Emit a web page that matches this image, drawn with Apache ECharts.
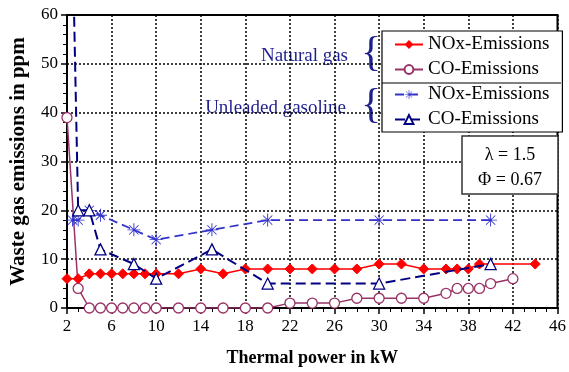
<!DOCTYPE html>
<html>
<head>
<meta charset="utf-8">
<script src="https://cdn.jsdelivr.net/npm/echarts@6/dist/echarts.min.js"></script>
<style>
html,body{margin:0;padding:0;background:#fff;}
#c{width:569px;height:372px;}
</style>
</head>
<body>
<div id="c"></div>
<script>
// ---- data ----
var xTickLabels = [2,6,10,14,18,22,26,30,34,38,42,46];
var yTickLabels = [0,10,20,30,40,50,60];

var seriesNames = ['ngNOx','ngCO','gasNOx','gasCO'];
var legendLabels = ['NOx-Emissions','CO-Emissions','NOx-Emissions','CO-Emissions'];
var groupLabels = ['Natural gas','Unleaded gasoline'];

var ngNoxX = [2,3,4,5,6,7,8,9,10,12,14,16,18,20,22,24,26,28,30,32,34,36,37,38,39,44];
var ngNoxY = [6,6,7,7,7,7,7,7,7,7,8,7,8,8,8,8,8,8,9,9,8,8,8,8,9,9];

var ngCoX = [2,3,4,5,6,7,8,9,10,12,14,16,18,20,22,24,26,28,30,32,34,36,37,38,39,40,42];
var ngCoY = [39,4,0,0,0,0,0,0,0,0,0,0,0,0,1,1,1,2,2,2,2,3,4,4,4,5,6];

var gasNoxX = [2.5,3,4,5,8,10,15,20,30,40];
var gasNoxY = [18,18,20,19,16,14,16,18,18,18];

var gasCoX = [2.5,3,4,5,8,10,15,20,30,40];
var gasCoY = [75,20,20,12,9,6,12,5,5,9];

var paramLines = ['\u03bb = 1.5','\u03a6 = 0.67'];

function pairs(xs, ys){ return xs.map(function(x,i){ return [x, ys[i]]; }); }

var FONT = 'Liberation Serif';
var starPath = 'path://M-0.7,-10L0.7,-10L0.7,10L-0.7,10Z M-10,-0.7L10,-0.7L10,0.7L-10,0.7Z M-7.6,-6.6L-6.6,-7.6L7.6,6.6L6.6,7.6Z M6.6,-7.6L7.6,-6.6L-6.6,7.6L-7.6,6.6Z';

var chart = echarts.init(document.getElementById('c'), null, {renderer:'canvas'});
var labelMap = {};
seriesNames.forEach(function(n,i){ labelMap[n] = legendLabels[i]; });

var option = {
  animation: false,
  backgroundColor: '#fff',
  grid: {left: 66, right: 9, top: 15, bottom: 61, show: true, borderColor: '#000', borderWidth: 2, backgroundColor: 'transparent'},
  xAxis: {
    type: 'value', min: xTickLabels[0], max: xTickLabels[xTickLabels.length-1], interval: 4,
    name: 'Thermal power in kW', nameLocation: 'middle', nameGap: 41,
    nameTextStyle: {fontFamily: FONT, fontWeight: 'bold', fontSize: 18, color: '#000'},
    axisLine: {lineStyle: {color: '#000', width: 2}},
    axisTick: {show: true, inside: false, length: 6, lineStyle: {color: '#000', width: 1.5}},
    minorTick: {show: true, splitNumber: 4, length: 4, lineStyle: {color: '#000', width: 1}},
    axisLabel: {fontFamily: FONT, fontSize: 17, color: '#000', margin: 10},
    splitLine: {show: true, lineStyle: {color: '#000', type: [2,2], width: 1.5}}
  },
  yAxis: {
    type: 'value', min: yTickLabels[0], max: yTickLabels[yTickLabels.length-1], interval: 10,
    name: 'Waste gas emissions in ppm', nameLocation: 'middle', nameGap: 38,
    nameTextStyle: {fontFamily: FONT, fontWeight: 'bold', fontSize: 21, color: '#000'},
    axisLine: {show: true, lineStyle: {color: '#000', width: 2}},
    axisTick: {show: true, inside: false, length: 6, lineStyle: {color: '#000', width: 1.5}},
    minorTick: {show: true, splitNumber: 5, length: 4, lineStyle: {color: '#000', width: 1}},
    axisLabel: {fontFamily: FONT, fontSize: 17, color: '#000', margin: 9},
    splitLine: {show: true, lineStyle: {color: '#000', type: [2,2], width: 1.5}}
  },
  legend: {
    orient: 'vertical', left: 382, top: 31,
    data: seriesNames,
    formatter: function(n){ return labelMap[n]; },
    itemWidth: 28, itemHeight: 11, itemGap: 6,
    padding: [4, 13, 3, 12],
    borderColor: '#000', borderWidth: 1.2, backgroundColor: '#fff',
    textStyle: {fontFamily: FONT, fontSize: 19, color: '#000'},
    selectedMode: false
  },
  series: [
    {name: seriesNames[0], type: 'line', data: pairs(ngNoxX, ngNoxY),
     symbol: 'diamond', symbolSize: 10, z: 3,
     lineStyle: {color: '#ff0000', width: 1.5},
     itemStyle: {color: '#ff0000', borderColor: '#ff0000'}},
    {name: seriesNames[1], type: 'line', data: pairs(ngCoX, ngCoY),
     symbol: 'circle', symbolSize: 10, z: 3,
     lineStyle: {color: '#993366', width: 1.5},
     itemStyle: {color: '#fff', borderColor: '#993366', borderWidth: 1.3}},
    {name: seriesNames[2], type: 'line', data: pairs(gasNoxX, gasNoxY),
     symbol: starPath, symbolSize: 13, z: 4,
     lineStyle: {color: '#3333cc', width: 1.7, type: [9,5]},
     itemStyle: {color: '#3333cc'}},
    {name: seriesNames[3], type: 'line', data: pairs(gasCoX, gasCoY),
     symbol: 'triangle', symbolSize: 11, z: 5,
     lineStyle: {color: '#000080', width: 2, type: [10,5]},
     itemStyle: {color: '#fff', borderColor: '#000080', borderWidth: 1.3}}
  ],
  graphic: [
    {type: 'text', right: 569-348, top: 47, style: {text: groupLabels[0], fontFamily: FONT, fontSize: 19, fill: '#1f1f8f'}},
    {type: 'text', right: 569-346, top: 99, style: {text: groupLabels[1], fontFamily: FONT, fontSize: 19, fill: '#1f1f8f'}},
    {type: 'text', left: 361, top: 33, style: {text: '{', fontFamily: FONT, fontSize: 42, fill: '#1f1f8f'}},
    {type: 'text', left: 361, top: 85, style: {text: '{', fontFamily: FONT, fontSize: 42, fill: '#1f1f8f'}},
    {type: 'line', shape: {x1: 382, y1: 83, x2: 561, y2: 83}, style: {stroke: '#000', lineWidth: 1.2}, z: 100},
    {type: 'rect', shape: {x: 462, y: 136, width: 96, height: 58}, style: {fill: '#fff', stroke: '#333', lineWidth: 1.5}, z: 100},
    {type: 'text', x: 510, y: 155, style: {text: paramLines[0], fontFamily: FONT, fontSize: 18, fill: '#000', align: 'center', verticalAlign: 'middle'}, z: 101},
    {type: 'text', x: 510, y: 180, style: {text: paramLines[1], fontFamily: FONT, fontSize: 18, fill: '#000', align: 'center', verticalAlign: 'middle'}, z: 101}
  ]
};
chart.setOption(option);
</script>
</body>
</html>
